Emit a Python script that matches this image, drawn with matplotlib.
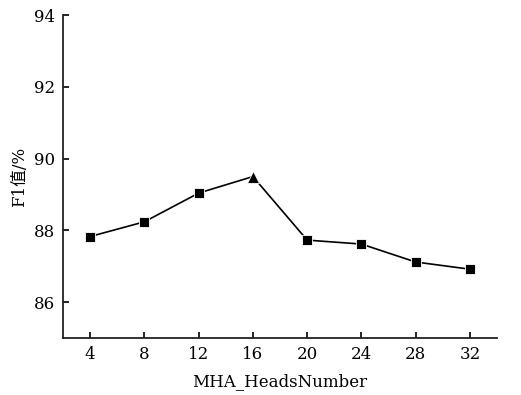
import matplotlib
matplotlib.use("Agg")
import matplotlib.pyplot as plt

heads = [4, 8, 12, 16, 20, 24, 28, 32]
f1 = [87.83, 88.24, 89.04, 89.50, 87.73, 87.62, 87.12, 86.92]
best_idx = 3
yticks = [86, 88, 90, 92, 94]

plt.rcParams['font.family'] = ['DejaVu Serif', 'Noto Sans CJK SC']

fig = plt.figure(figsize=(5.21, 3.95), dpi=100)
ax = fig.add_axes([0.121, 0.144, 0.833, 0.818])

ax.plot(heads, f1, color="black", linewidth=1.2, zorder=2)
sq = [i for i in range(len(heads)) if i != best_idx]
ax.plot([heads[i] for i in sq], [f1[i] for i in sq], linestyle="none",
        marker="s", markersize=7, color="black", markeredgecolor="white",
        markeredgewidth=0.6, zorder=3)
ax.plot([heads[best_idx]], [f1[best_idx]], linestyle="none", marker="^",
        markersize=8, color="black", markeredgecolor="white",
        markeredgewidth=0.6, zorder=3)

ax.set_xlim(2, 34)
ax.set_ylim(85, 94)
ax.set_xticks(heads)
ax.set_yticks(yticks)
ax.tick_params(direction="in", length=4, width=1.2, labelsize=12, pad=6)
for s in ("top", "right"):
    ax.spines[s].set_visible(False)
for s in ("left", "bottom"):
    ax.spines[s].set_linewidth(1.3)
    ax.spines[s].set_color("#222222")

ax.set_xlabel("MHA_HeadsNumber", fontsize=12, labelpad=7)
ax.set_ylabel("F1值/%", fontsize=12, labelpad=4)

fig.savefig("out.png", dpi=100)
